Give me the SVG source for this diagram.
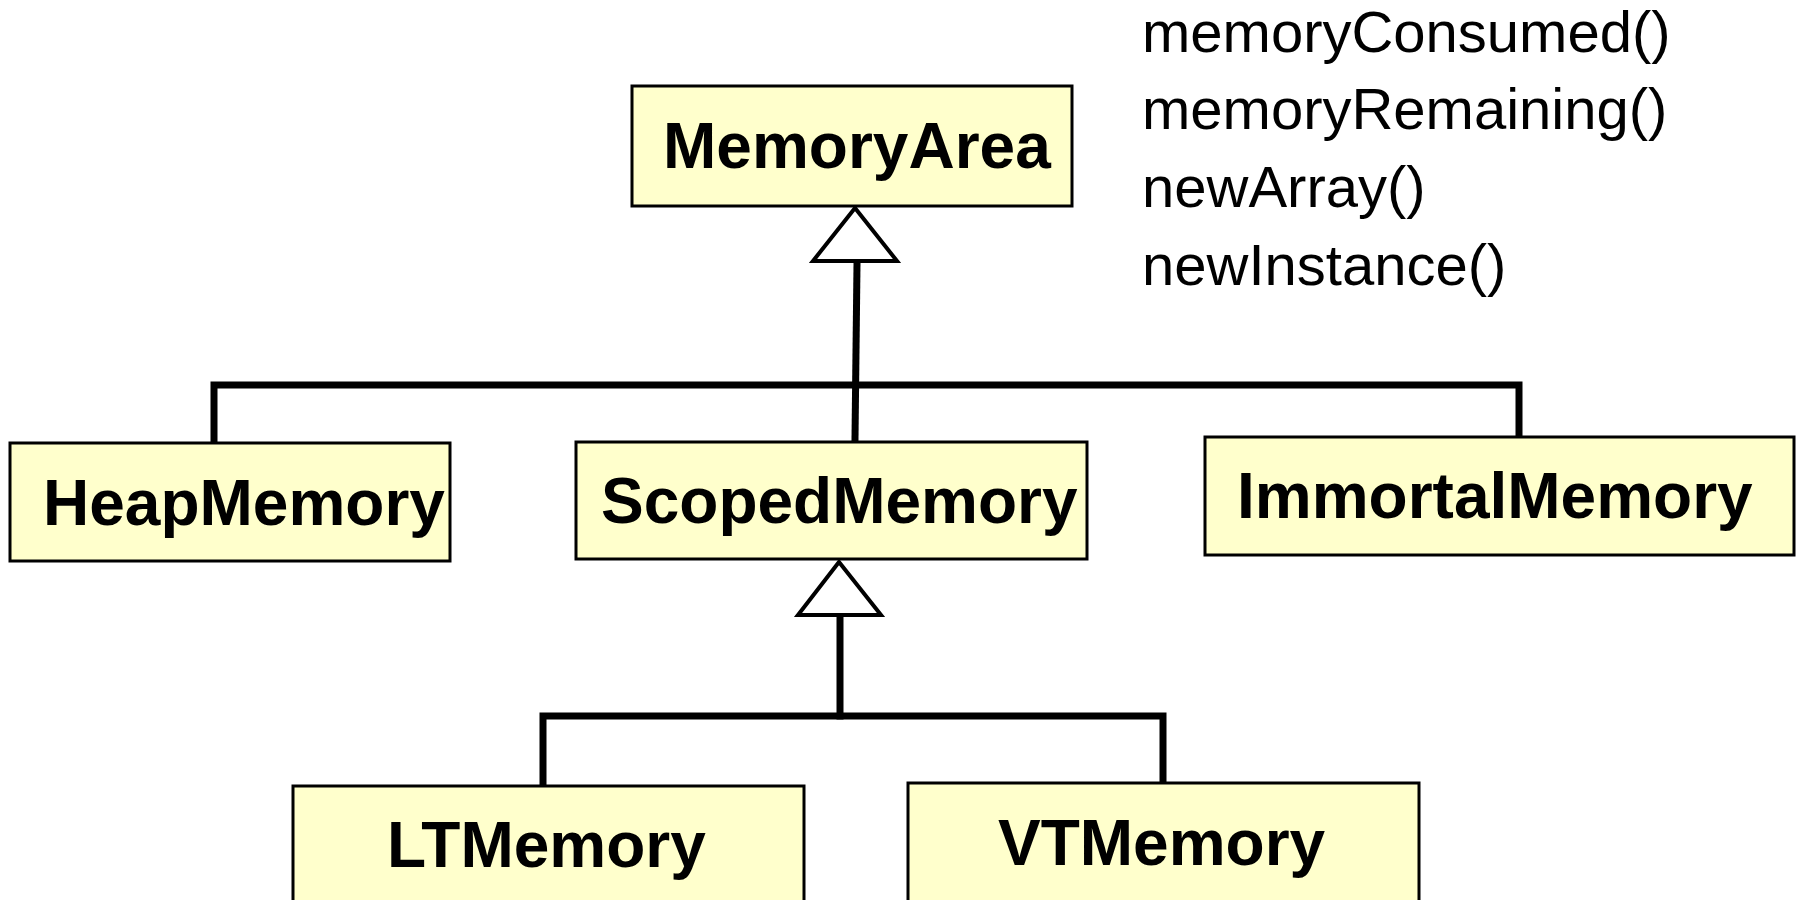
<svg xmlns="http://www.w3.org/2000/svg" width="1796" height="900" viewBox="0 0 1796 900">
<style>
.box{fill:#FFFFCC;stroke:#000;stroke-width:3}
.lbl{font-family:"Liberation Sans",Arial,sans-serif;font-weight:bold;font-size:64px;fill:#000}
.op{font-family:"Liberation Sans",Arial,sans-serif;font-size:58px;fill:#000}
.c{fill:none;stroke:#000;stroke-width:7;stroke-linecap:square}
.tri{fill:#fff;stroke:#000;stroke-width:4;stroke-linejoin:miter}
</style>
<rect width="1796" height="900" fill="#fff"/>
<g id="connectors">
<polyline class="c" points="857,264 855,439"/>
<polyline class="c" points="214,441 214,385 1519,385 1519,435"/>
<polyline class="c" points="840,618 840,716"/>
<polyline class="c" points="543,784 543,716 1163,716 1163,781"/>
<polygon class="tri" points="855,208 813,261 897,261"/>
<polygon class="tri" points="839,562 798,615 881,615"/>
</g>
<g id="MemoryArea">
<rect class="box" x="632" y="86" width="440" height="120"/>
<text class="lbl" x="663" y="168">MemoryArea</text>
</g>
<g id="operations">
<text class="op" x="1142" y="52">memoryConsumed()</text>
<text class="op" x="1142" y="129">memoryRemaining()</text>
<text class="op" x="1142" y="207">newArray()</text>
<text class="op" x="1142" y="285">newInstance()</text>
</g>
<g id="HeapMemory">
<rect class="box" x="10" y="443" width="440" height="118"/>
<text class="lbl" x="43" y="525">HeapMemory</text>
</g>
<g id="ScopedMemory">
<rect class="box" x="576" y="442" width="511" height="117"/>
<text class="lbl" x="601" y="523">ScopedMemory</text>
</g>
<g id="ImmortalMemory">
<rect class="box" x="1205" y="437" width="589" height="118"/>
<text class="lbl" x="1237" y="518">ImmortalMemory</text>
</g>
<g id="LTMemory">
<rect class="box" x="293" y="786" width="511" height="130"/>
<text class="lbl" x="387" y="867">LTMemory</text>
</g>
<g id="VTMemory">
<rect class="box" x="908" y="783" width="511" height="130"/>
<text class="lbl" x="998" y="865">VTMemory</text>
</g>
</svg>
